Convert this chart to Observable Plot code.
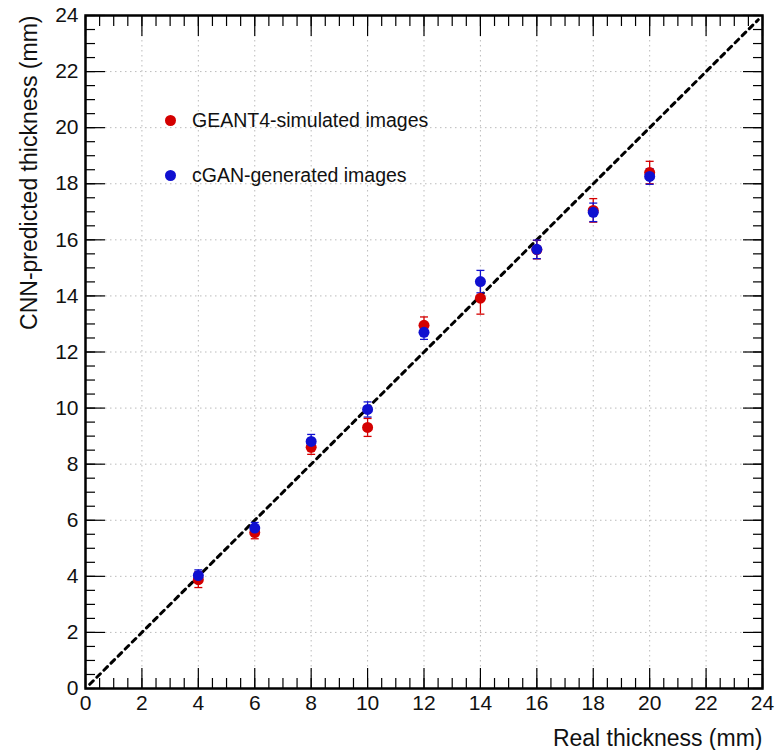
<!DOCTYPE html>
<html>
<head>
<meta charset="utf-8">
<script src="https://cdn.jsdelivr.net/npm/d3@7"></script>
<script src="https://cdn.jsdelivr.net/npm/@observablehq/plot@0.6"></script>
<style>
  body { margin: 0; background: #fff; }
  #wrap { position: relative; width: 782px; height: 750px; font-family: "Liberation Sans", Arial, sans-serif; }
  #legend { position: absolute; left: 165px; top: 106px; font-size: 19.5px; color: #111; }
  #legend .row { display: flex; align-items: center; height: 28px; margin-bottom: 27px; }
  #legend .dot { width: 11px; height: 11px; border-radius: 50%; margin-right: 16px; }
</style>
</head>
<body>
<div id="wrap"></div>
<script>
const thickness = [4, 6, 8, 10, 12, 14, 16, 18, 20];
const geantPred = [3.88, 5.56, 8.6, 9.31, 12.95, 13.92, 15.65, 17.05, 18.4];
const geantErr  = [0.28, 0.22, 0.25, 0.32, 0.3, 0.57, 0.33, 0.42, 0.4];
const cganPred  = [4.03, 5.72, 8.81, 9.95, 12.7, 14.51, 15.66, 16.98, 18.26];
const cganErr   = [0.2, 0.2, 0.25, 0.27, 0.25, 0.4, 0.33, 0.33, 0.28];
const series = [
  {name: "GEANT4-simulated images", color: "#d40000", pred: geantPred, err: geantErr},
  {name: "cGAN-generated images", color: "#1010d0", pred: cganPred, err: cganErr}
];
const majorTicks = d3.range(0, 24.001, 2);
const minorTicks = d3.range(0, 24.001, 0.5);
const diag = [0.15, 23.85];

const rows = series.flatMap(s => thickness.map((t, i) => ({
  series: s.name, color: s.color, x: t, y: s.pred[i], lo: s.pred[i] - s.err[i], hi: s.pred[i] + s.err[i]
})));

const capSymbol = {
  draw(context, size) {
    const w = 4;
    context.moveTo(-w, 0);
    context.lineTo(w, 0);
  }
};

const font = "Liberation Sans, Arial, sans-serif";
const noText = () => "";
const tickStyle = {stroke: "#000", strokeWidth: 1.2, tickFormat: noText, label: null};

const chart = Plot.plot({
  width: 782,
  height: 750,
  marginLeft: 85,
  marginRight: 20,
  marginTop: 15,
  marginBottom: 62,
  style: {fontFamily: font, fontSize: "21px", color: "#000", background: "#fff"},
  x: {domain: [0, 24]},
  y: {domain: [0, 24]},
  marks: [
    Plot.gridX(majorTicks.slice(1, -1), {stroke: "#bbb", strokeOpacity: 1, strokeDasharray: "1.5,3.5", strokeWidth: 1}),
    Plot.gridY(majorTicks.slice(1, -1), {stroke: "#bbb", strokeOpacity: 1, strokeDasharray: "1.5,3.5", strokeWidth: 1}),
    // inward minor ticks
    Plot.axisX(minorTicks, {anchor: "bottom", tickSize: -10, ...tickStyle}),
    Plot.axisX(minorTicks, {anchor: "top", tickSize: -10, ...tickStyle}),
    Plot.axisY(minorTicks, {anchor: "left", tickSize: -10, ...tickStyle}),
    Plot.axisY(minorTicks, {anchor: "right", tickSize: -10, ...tickStyle}),
    // inward major ticks
    Plot.axisX(majorTicks, {anchor: "bottom", tickSize: -20, ...tickStyle}),
    Plot.axisX(majorTicks, {anchor: "top", tickSize: -20, ...tickStyle}),
    Plot.axisY(majorTicks, {anchor: "left", tickSize: -20, ...tickStyle}),
    Plot.axisY(majorTicks, {anchor: "right", tickSize: -20, ...tickStyle}),
    // labels
    Plot.axisX(majorTicks, {anchor: "bottom", tickSize: 0, tickPadding: 7, label: null, fontSize: 21, fill: "#111"}),
    Plot.axisY(majorTicks, {anchor: "left", tickSize: 0, tickPadding: 7, label: null, fontSize: 21, fill: "#111"}),
    // diagonal
    Plot.line(diag.map(v => ({x: v, y: v})), {x: "x", y: "y", stroke: "#000", strokeWidth: 3, strokeDasharray: "5,5"}),
    // error bars
    Plot.ruleX(rows, {x: "x", y1: "lo", y2: "hi", stroke: "color", strokeWidth: 1.3}),
    Plot.dot(rows, {x: "x", y: "lo", symbol: capSymbol, stroke: "color", strokeWidth: 1.3, r: 4}),
    Plot.dot(rows, {x: "x", y: "hi", symbol: capSymbol, stroke: "color", strokeWidth: 1.3, r: 4}),
    Plot.dot(rows, {x: "x", y: "y", fill: "color", r: 5.5}),
    Plot.frame({stroke: "#000", strokeWidth: 2.5}),
    // axis titles
    Plot.text(["Real thickness (mm)"], {frameAnchor: "bottom-right", text: d => d, textAnchor: "end", lineAnchor: "middle", dy: 50, fontSize: 23, fill: "#111"}),
    Plot.text(["CNN-predicted thickness (mm)"], {frameAnchor: "top-left", text: d => d, textAnchor: "end", lineAnchor: "middle", rotate: -90, dx: -56, fontSize: 23, fill: "#111"})
  ]
});

const wrap = document.getElementById("wrap");
wrap.appendChild(chart);
const legend = document.createElement("div");
legend.id = "legend";
for (const s of series) {
  const row = document.createElement("div");
  row.className = "row";
  const dot = document.createElement("span");
  dot.className = "dot";
  dot.style.background = s.color;
  const label = document.createElement("span");
  label.textContent = s.name;
  row.appendChild(dot);
  row.appendChild(label);
  legend.appendChild(row);
}
wrap.appendChild(legend);
</script>
</body>
</html>
